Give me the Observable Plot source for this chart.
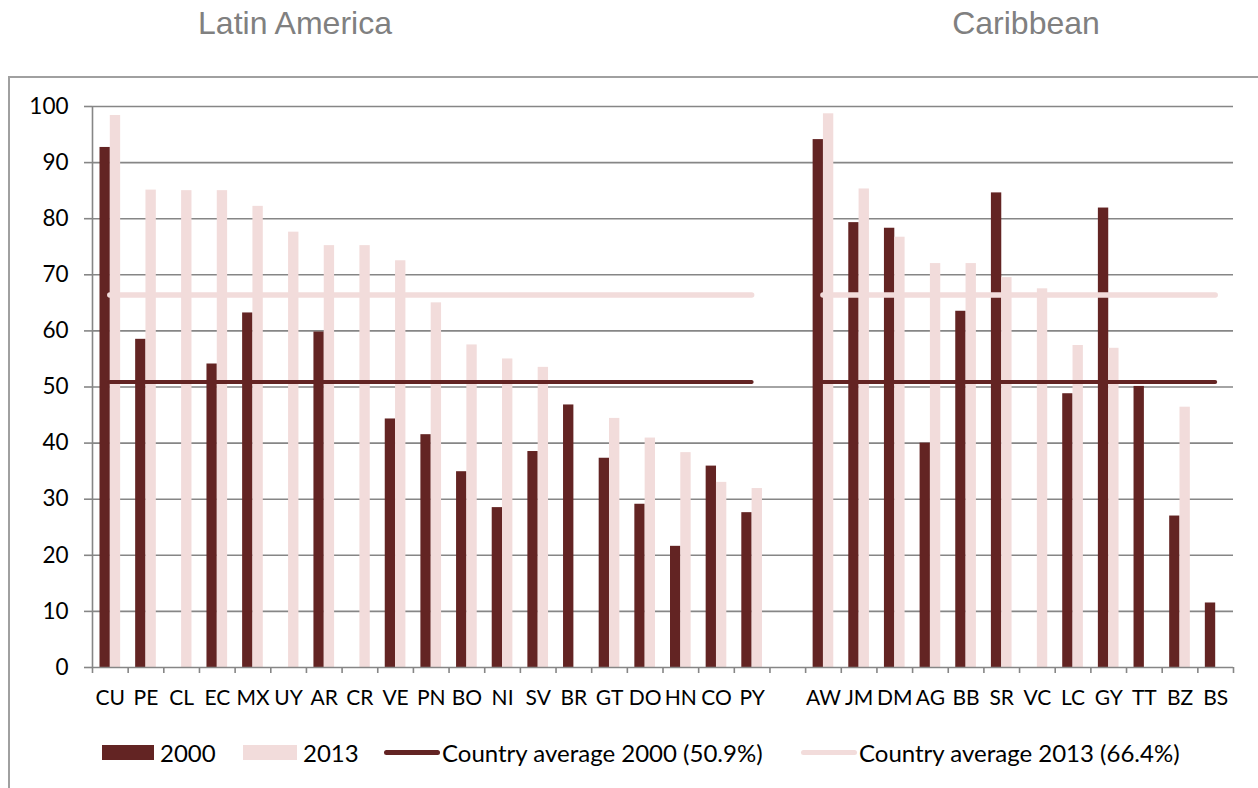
<!DOCTYPE html>
<html>
<head>
<meta charset="utf-8">
<script src="https://cdn.jsdelivr.net/npm/d3@7"></script>
<script src="https://cdn.jsdelivr.net/npm/@observablehq/plot@0.6"></script>
<style>
  html, body { margin: 0; padding: 0; background: #fff; }
  #page { position: relative; width: 1258px; height: 788px; overflow: hidden; font-family: Lato, sans-serif; }
  .title { position: absolute; top: 2px; font-family: "Liberation Sans", Arial, sans-serif; font-size: 32px; line-height: 42px; color: #808080; transform: translateX(-50%); white-space: nowrap; }
  #frame { position: absolute; left: 8px; top: 76px; width: 1300px; height: 800px; border-left: 2px solid #a0a0a0; border-top: 2px solid #a0a0a0; }
  #chart { position: absolute; left: 0; top: 78px; }
  .leg { position: absolute; top: 738px; height: 28px; display: flex; align-items: center; font-family: Lato, sans-serif; font-size: 24px; color: #000; white-space: nowrap; }
  .sw { width: 52px; height: 15px; margin-right: 6px; }
  .ln { width: 56px; height: 5px; border-radius: 3px; margin-right: 2px; }
</style>
</head>
<body>
<div id="page">
  <div id="frame"></div>
  <div class="title" style="left:295px">Latin America</div>
  <div class="title" style="left:1026px">Caribbean</div>
  <div id="chart"></div>
  <div class="leg" style="left:102px"><div class="sw" style="background:#632423"></div>2000</div>
  <div class="leg" style="left:243px"><div class="sw" style="background:#F2DCDB; width:54px"></div>2013</div>
  <div class="leg" style="left:384px"><div class="ln" style="background:#632423"></div>Country average 2000 (50.9%)</div>
  <div class="leg" style="left:801px"><div class="ln" style="background:#F2DCDB"></div>Country average 2013 (66.4%)</div>
</div>
<script>
// ---- data ----
const latCountries = ["CU","PE","CL","EC","MX","UY","AR","CR","VE","PN","BO","NI","SV","BR","GT","DO","HN","CO","PY"];
const lat2000 = [92.7, 58.5, null, 54.1, 63.2, null, 59.8, null, 44.3, 41.5, 34.9, 28.5, 38.5, 46.8, 37.3, 29.1, 21.6, 35.9, 27.6];
const lat2013 = [98.4, 85.1, 85.0, 85.0, 82.2, 77.6, 75.2, 75.2, 72.5, 65.0, 57.5, 55.0, 53.5, null, 44.4, 40.9, 38.3, 33.0, 31.9];
const caribCountries = ["AW","JM","DM","AG","BB","SR","VC","LC","GY","TT","BZ","BS"];
const carib2000 = [94.1, 79.3, 78.3, 40.0, 63.5, 84.6, null, 48.8, 81.9, 50.1, 27.0, 11.5];
const carib2013 = [98.7, 85.3, 76.7, 72.0, 72.0, 69.5, 67.5, 57.4, 56.9, null, 46.4, null];
const avg2000 = 50.9;
const avg2013 = 66.4;
const yTicks = [0, 10, 20, 30, 40, 50, 60, 70, 80, 90, 100];

// ---- build table (one empty slot between the two regions) ----
const rows = [
  ...latCountries.map((c, k) => ({c, i: k, v2000: lat2000[k], v2013: lat2013[k]})),
  ...caribCountries.map((c, k) => ({c, i: latCountries.length + 1 + k, v2000: carib2000[k], v2013: carib2013[k]}))
];
const nSlots = latCountries.length + 1 + caribCountries.length;
const groups = [
  {i1: 0, i2: latCountries.length - 1},
  {i1: latCountries.length + 1, i2: nSlots - 1}
];
const labelOf = new Map(rows.map(d => [d.i, d.c]));
const boundaries = d3.range(nSlots + 1).map(k => k - 0.5);

const dark = "#632423", light = "#F2DCDB", grid = "#868686";

const chart = Plot.plot({
  width: 1258,
  height: 639,
  marginLeft: 92,
  marginRight: 25,
  marginTop: 28,
  marginBottom: 50,
  x: {type: "linear", domain: [-0.5, nSlots - 0.5]},
  y: {domain: [0, 100]},
  style: {fontFamily: "Lato, sans-serif", fontSize: "21px", color: "#000", background: "transparent"},
  marks: [
    Plot.ruleY(yTicks.filter(t => t > 0), {stroke: grid, strokeWidth: 1.6}),
    Plot.rect(rows.filter(d => d.v2000 != null), {x1: d => d.i - 0.5, x2: d => d.i + 0.5, y1: 0, y2: "v2000", insetLeft: 7.5, insetRight: 17.8, fill: dark}),
    Plot.rect(rows.filter(d => d.v2013 != null), {x1: d => d.i - 0.5, x2: d => d.i + 0.5, y1: 0, y2: "v2013", insetLeft: 17.8, insetRight: 7.5, fill: light}),
    Plot.ruleY(groups, {y: () => avg2013, x1: "i1", x2: "i2", stroke: light, strokeWidth: 5.5, strokeLinecap: "round"}),
    Plot.ruleY(groups, {y: () => avg2000, x1: "i1", x2: "i2", stroke: dark, strokeWidth: 4, strokeLinecap: "round"}),
    Plot.ruleY([0], {stroke: grid, strokeWidth: 1.6}),
    Plot.ruleX([-0.5], {stroke: grid, strokeWidth: 1.6}),
    Plot.axisY({ticks: yTicks, tickSize: 8, tickPadding: 16, stroke: grid, strokeWidth: 1.6, fontSize: 22.5, label: null}),
    Plot.axisX({ticks: boundaries, tickSize: 6, stroke: grid, strokeWidth: 1.6, tickFormat: () => "", label: null}),
    Plot.axisX({ticks: rows.map(d => d.i), tickSize: 0, tickPadding: 23, tickFormat: i => labelOf.get(i), fontSize: 21, label: null})
  ]
});
document.getElementById("chart").appendChild(chart);
</script>
</body>
</html>
